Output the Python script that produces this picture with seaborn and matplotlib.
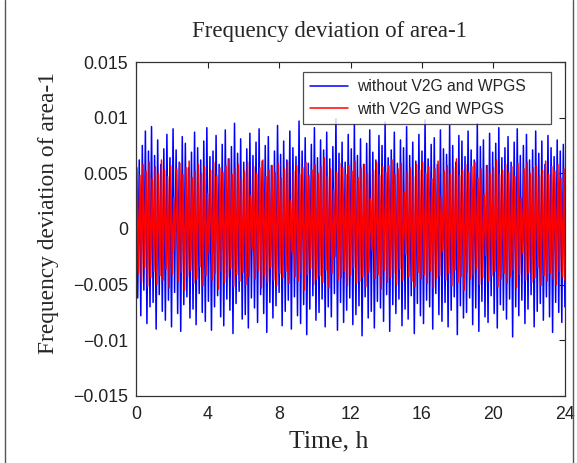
import numpy as np
import pandas as pd
import matplotlib
matplotlib.use("Agg")
import matplotlib.pyplot as plt
from matplotlib.lines import Line2D
import seaborn as sns

# Extremes of each oscillation cycle (units of 1e-4 p.u.)
blue_hi = [68, 62, 75, 88, 70, 92, 66, 80, 58, 72,
           85, 64, 90, 71, 60, 83, 77, 55, 69, 87,
           73, 62, 79, 91, 65, 70, 84, 58, 76, 89,
           63, 74, 95, 68, 81, 60, 72, 86, 66, 78,
           90, 61, 75, 83, 57, 70, 93, 67, 79, 62,
           88, 73, 65, 97, 70, 82, 59, 76, 91, 64,
           80, 71, 87, 63, 74, 99, 68, 78, 60, 85,
           72, 94, 66, 81, 58, 77, 89, 69, 62, 84,
           75, 96, 64, 71, 87, 59, 80, 73, 92, 66,
           78, 61, 85, 70, 98, 63, 76, 82, 58, 89,
           72, 67, 93, 75, 60, 84, 79, 65, 88, 71,
           62, 95, 74, 80, 57, 86, 69, 77, 91, 64,
           73, 83, 60, 78, 90, 66, 75, 85, 62, 71,
           88, 68, 79, 58, 84, 73, 65, 80, 70, 76]
blue_lo = [-62, -78, -55, -85, -70, -66, -90, -59, -74, -82,
           -64, -88, -57, -76, -92, -68, -61, -80, -72, -86,
           -58, -75, -83, -65, -91, -70, -60, -79, -87, -63,
           -73, -94, -67, -56, -81, -77, -89, -62, -71, -84,
           -59, -76, -93, -66, -80, -69, -57, -87, -74, -64,
           -90, -61, -78, -85, -68, -95, -72, -60, -82, -75,
           -63, -88, -70, -79, -58, -91, -66, -84, -73, -62,
           -86, -77, -69, -96, -61, -80, -74, -89, -65, -71,
           -83, -59, -92, -68, -76, -63, -87, -72, -81, -60,
           -94, -67, -78, -85, -64, -70, -90, -58, -77, -83,
           -66, -88, -73, -61, -95, -69, -80, -75, -62, -86,
           -71, -92, -65, -79, -84, -60, -76, -89, -68, -73,
           -81, -63, -97, -70, -78, -64, -85, -72, -59, -88,
           -74, -67, -82, -61, -79, -93, -66, -75, -84, -70]
red_hi = [55, 48, 58, 52, 60, 45, 56, 50, 62, 53,
          47, 57, 28, 54, 59, 49, 55, 61, 46, 52,
          58, 50, 56, 32, 53, 60, 48, 55, 51, 57,
          63, 49, 54, 58, 45, 52, 60, 30, 56, 50,
          55, 62, 47, 53, 57, 51, 59, 46, 54, 61,
          25, 52, 57, 49, 55, 60, 48, 53, 58, 50,
          56, 64, 47, 54, 35, 51, 59, 55, 49, 57,
          52, 61, 46, 55, 58, 50, 27, 53, 60, 48,
          56, 51, 57, 62, 49, 54, 59, 33, 52, 55,
          47, 58, 53, 60, 50, 56, 45, 54, 61, 29,
          52, 57, 49, 55, 63, 48, 53, 58, 51, 56,
          60, 46, 54, 31, 57, 50, 55, 62, 49, 53,
          58, 51, 56, 47, 59, 28, 54, 60, 50, 55,
          57, 48, 53, 61, 49, 56, 52, 58, 46, 54]
red_lo = [-40, -48, -35, -52, -44, -38, -50, -42, -46, -36,
          -53, -41, -20, -47, -39, -55, -43, -37, -49, -45,
          -34, -51, -42, -22, -46, -40, -54, -38, -48, -44,
          -36, -52, -41, -47, -39, -50, -43, -18, -45, -37,
          -53, -42, -48, -35, -46, -51, -40, -44, -38, -49,
          -21, -43, -47, -39, -55, -41, -36, -50, -45, -42,
          -48, -37, -53, -40, -25, -46, -44, -38, -51, -42,
          -35, -49, -47, -43, -52, -39, -19, -45, -41, -54,
          -37, -48, -44, -40, -50, -36, -46, -23, -43, -47,
          -52, -39, -45, -41, -49, -38, -53, -44, -42, -20,
          -46, -40, -51, -37, -48, -43, -55, -39, -45, -41,
          -36, -50, -44, -24, -47, -42, -38, -52, -45, -40,
          -49, -43, -37, -53, -41, -22, -46, -39, -48, -44,
          -35, -51, -42, -47, -40, -45, -50, -38, -43, -46]

scale = 1e-4
x_ticks = [0, 4, 8, 12, 16, 20, 24]
y_ticks = [-0.015, -0.01, -0.005, 0, 0.005, 0.01, 0.015]
y_ticklabels = ["\u22120.015", "\u22120.01", "\u22120.005", "0", "0.005", "0.01", "0.015"]
labels = ["without V2G and WPGS", "with V2G and WPGS"]


def interleave(hi, lo):
    return np.column_stack([hi, lo]).ravel() * scale


blue = interleave(blue_hi, blue_lo)
red = interleave(red_hi, red_lo)
t_blue = np.linspace(0, 24, len(blue))
t_red = np.linspace(0, 24, len(red)) + 0.04
t_red[-1] = 24

sns.set_style("white")
plt.rcParams["font.family"] = ["Liberation Sans", "DejaVu Sans"]

fig = plt.figure(figsize=(5.77, 4.63), dpi=100)
ax = fig.add_axes([0.236, 0.145, 0.743, 0.721])

sns.lineplot(x=t_blue, y=blue, ax=ax, color=(0, 0, 1), lw=1.1,
             estimator=None, sort=False, label=labels[0] + "    ")
sns.lineplot(x=t_red, y=red, ax=ax, color=(1, 0, 0), lw=1.1,
             estimator=None, sort=False, label=labels[1] + "    ")

ax.set_xlim(0, 24)
ax.set_ylim(-0.015, 0.015)
ax.set_xticks(x_ticks)
ax.set_xticklabels([str(v) for v in x_ticks])
ax.set_yticks(y_ticks)
ax.set_yticklabels(y_ticklabels)
ax.tick_params(direction="in", length=4, width=0.8, top=True, right=True,
               labelsize=12.8, colors="#222222")
ax.tick_params(axis="x", pad=7)
ax.tick_params(axis="y", pad=6)
for s in ax.spines.values():
    s.set_color("#333333")
    s.set_linewidth(0.9)

serif = ["Liberation Serif", "DejaVu Serif"]
ax.set_title("Frequency deviation of area-1", family=serif, fontsize=16.5, pad=18,
             x=0.45)
ax.set_xlabel("Time, h", family=serif, fontsize=18.5)
ax.xaxis.set_label_coords(0.448, -0.105)
ax.set_ylabel("Frequency deviation of area-1", family=serif, fontsize=16.8)
ax.yaxis.set_label_coords(-0.181, 0.548)

leg = ax.legend(loc="upper right", bbox_to_anchor=(0.967, 0.97), fontsize=11.3,
                frameon=True, fancybox=False, borderpad=0.45, handlelength=2.4,
                handletextpad=0.6, labelspacing=0.48, borderaxespad=0)
leg.get_frame().set_edgecolor("#222222")
leg.get_frame().set_linewidth(0.9)

# figure frame lines at left/right edges
fig.add_artist(Line2D([5 / 577, 5 / 577], [0, 1], transform=fig.transFigure,
                      color="#555555", lw=1.0))
fig.add_artist(Line2D([573 / 577, 573 / 577], [0, 1], transform=fig.transFigure,
                      color="#555555", lw=1.0))

fig.savefig("out.png", dpi=100)
